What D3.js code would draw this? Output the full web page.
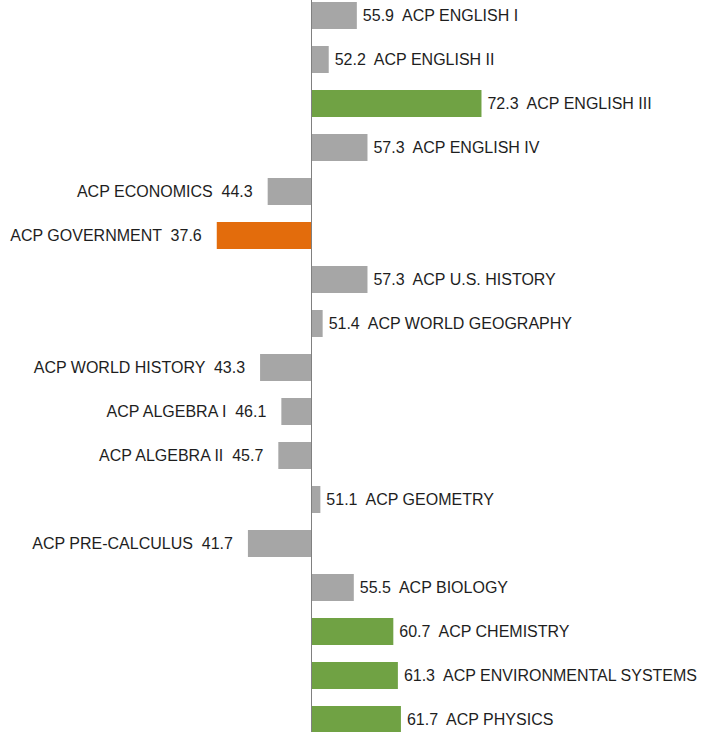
<!DOCTYPE html>
<html>
<head>
<meta charset="utf-8">
<script src="https://cdn.jsdelivr.net/npm/d3@7"></script>
<style>
  body { margin: 0; background: #fff; }
  svg { display: block; }
</style>
</head>
<body>
<div class="chart"></div>
<script>
const width = 701
const height = 732

const courses = [
  'ACP ENGLISH I', 'ACP ENGLISH II', 'ACP ENGLISH III', 'ACP ENGLISH IV',
  'ACP ECONOMICS', 'ACP GOVERNMENT', 'ACP U.S. HISTORY', 'ACP WORLD GEOGRAPHY',
  'ACP WORLD HISTORY', 'ACP ALGEBRA I', 'ACP ALGEBRA II', 'ACP GEOMETRY',
  'ACP PRE-CALCULUS', 'ACP BIOLOGY', 'ACP CHEMISTRY', 'ACP ENVIRONMENTAL SYSTEMS',
  'ACP PHYSICS'
]
const scores = [55.9, 52.2, 72.3, 57.3, 44.3, 37.6, 57.3, 51.4, 43.3, 46.1, 45.7, 51.1, 41.7, 55.5, 60.7, 61.3, 61.7]
const groups = ['mid', 'mid', 'high', 'mid', 'mid', 'low', 'mid', 'mid', 'mid', 'mid', 'mid', 'mid', 'mid', 'mid', 'high', 'high', 'high']
const baseline = 50

const theme = {
  mid: '#a6a6a6',
  high: '#70a244',
  low: '#e36c0c',
  axis: '#808080',
  text: '#1e1e1e'
}

const data = courses.map((c, i) => ({ name: c, value: scores[i], group: groups[i] }))

const svg = d3.select('.chart')
  .append('svg')
  .attr('width', width)
  .attr('height', height)

const x = d3.scaleLinear().domain([baseline, 60]).range([311, 387])

const pad = 17 / 44
const y = d3.scaleBand()
  .domain(courses)
  .range([-6.5, 741.5])
  .paddingInner(pad)
  .paddingOuter(pad / 2)

svg.append('g')
  .selectAll('rect')
  .data(data)
  .join('rect')
  .attr('x', d => Math.min(x(d.value), x(baseline)) + (d.value >= baseline ? 1 : 0))
  .attr('y', d => y(d.name))
  .attr('width', d => Math.abs(x(d.value) - x(baseline)))
  .attr('height', y.bandwidth())
  .attr('fill', d => theme[d.group])

svg.append('line')
  .attr('x1', x(baseline) + 0.5)
  .attr('x2', x(baseline) + 0.5)
  .attr('y1', 0)
  .attr('y2', height)
  .attr('stroke', theme.axis)
  .attr('stroke-width', 1)

svg.append('g')
  .selectAll('text')
  .data(data)
  .join('text')
  .attr('x', d => d.value >= baseline ? x(d.value) + 7 : x(d.value) - 15)
  .attr('y', d => y(d.name) + y.bandwidth() / 2)
  .attr('dy', '0.35em')
  .attr('text-anchor', d => d.value >= baseline ? 'start' : 'end')
  .attr('font-family', 'Liberation Sans, Arial, sans-serif')
  .attr('font-size', 16)
  .attr('fill', theme.text)
  .style('white-space', 'pre')
  .text(d => d.value >= baseline
    ? `${d3.format('.1f')(d.value)}  ${d.name}`
    : `${d.name}  ${d3.format('.1f')(d.value)}`)
</script>
</body>
</html>
